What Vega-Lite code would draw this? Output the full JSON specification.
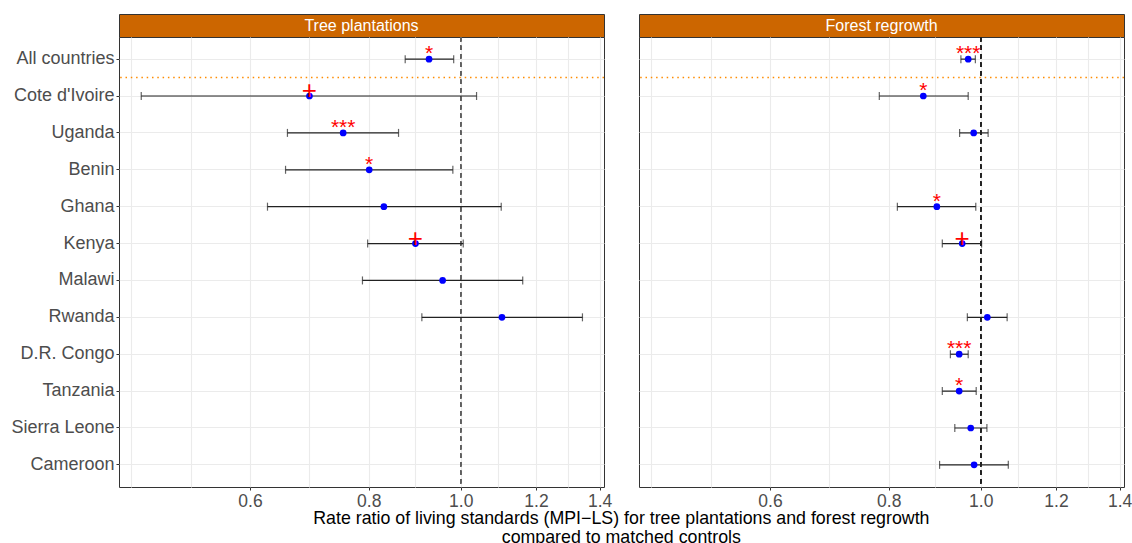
{
  "$schema": "https://vega.github.io/schema/vega-lite/v6.json",
  "padding": {"left": 10, "top": 13, "right": 0, "bottom": 0},
  "background": "white",
  "datasets": {
    "est": [
      {"panel": "Tree plantations", "country": "All countries", "rr": 0.926, "lo": 0.874, "hi": 0.983, "sig": "*"},
      {"panel": "Tree plantations", "country": "Cote d'Ivoire", "rr": 0.693, "lo": 0.461, "hi": 1.039, "sig": "+"},
      {"panel": "Tree plantations", "country": "Uganda", "rr": 0.752, "lo": 0.657, "hi": 0.860, "sig": "***"},
      {"panel": "Tree plantations", "country": "Benin", "rr": 0.801, "lo": 0.654, "hi": 0.981, "sig": "*"},
      {"panel": "Tree plantations", "country": "Ghana", "rr": 0.830, "lo": 0.626, "hi": 1.103, "sig": ""},
      {"panel": "Tree plantations", "country": "Kenya", "rr": 0.896, "lo": 0.798, "hi": 1.006, "sig": "+"},
      {"panel": "Tree plantations", "country": "Malawi", "rr": 0.957, "lo": 0.788, "hi": 1.162, "sig": ""},
      {"panel": "Tree plantations", "country": "Rwanda", "rr": 1.105, "lo": 0.910, "hi": 1.343, "sig": ""},
      {"panel": "Forest regrowth", "country": "All countries", "rr": 0.970, "lo": 0.953, "hi": 0.987, "sig": "***"},
      {"panel": "Forest regrowth", "country": "Cote d'Ivoire", "rr": 0.870, "lo": 0.782, "hi": 0.970, "sig": "*"},
      {"panel": "Forest regrowth", "country": "Uganda", "rr": 0.983, "lo": 0.950, "hi": 1.018, "sig": ""},
      {"panel": "Forest regrowth", "country": "Ghana", "rr": 0.899, "lo": 0.817, "hi": 0.988, "sig": "*"},
      {"panel": "Forest regrowth", "country": "Kenya", "rr": 0.956, "lo": 0.911, "hi": 1.002, "sig": "+"},
      {"panel": "Forest regrowth", "country": "Rwanda", "rr": 1.016, "lo": 0.968, "hi": 1.066, "sig": ""},
      {"panel": "Forest regrowth", "country": "D.R. Congo", "rr": 0.949, "lo": 0.929, "hi": 0.970, "sig": "***"},
      {"panel": "Forest regrowth", "country": "Tanzania", "rr": 0.949, "lo": 0.911, "hi": 0.989, "sig": "*"},
      {"panel": "Forest regrowth", "country": "Sierra Leone", "rr": 0.976, "lo": 0.939, "hi": 1.015, "sig": ""},
      {"panel": "Forest regrowth", "country": "Cameroon", "rr": 0.984, "lo": 0.905, "hi": 1.069, "sig": ""}
    ]
  },
  "title": {
    "text": ["Rate ratio of living standards (MPI−LS) for tree plantations and forest regrowth", "compared to matched controls"],
    "orient": "bottom",
    "anchor": "middle",
    "fontSize": 17.8,
    "fontWeight": "normal",
    "color": "black",
    "font": "Liberation Sans",
    "offset": 0,
    "dx": 50,
    "lineHeight": 18.5
  },
  "columns": 2,
  "spacing": {"row": 0, "column": 35},
  "bounds": "flush",
  "concat": [
    {
      "width": 485, "height": 23,
      "data": {"values": [{"panel": "Tree plantations"}]},
      "mark": {"type": "text", "color": "white", "fontSize": 16, "font": "Liberation Sans"},
      "encoding": {"text": {"field": "panel"}},
      "view": {"fill": "#CC6600", "stroke": "#333333"}
    },
    {
      "width": 485, "height": 23,
      "data": {"values": [{"panel": "Forest regrowth"}]},
      "mark": {"type": "text", "color": "white", "fontSize": 16, "font": "Liberation Sans"},
      "encoding": {"text": {"field": "panel"}},
      "view": {"fill": "#CC6600", "stroke": "#333333"}
    },
    {
      "width": 485, "height": 450,
      "data": {"name": "est"},
      "transform": [{"filter": "datum.panel === 'Tree plantations'"}],
      "view": {"fill": "white", "stroke": "#333333"},
      "layer": [
        {
          "mark": {"type": "rule", "color": "#FF8C00", "strokeDash": [1.5, 3.8], "strokeWidth": 1.5},
          "transform": [{"filter": "datum.country === 'All countries'"}],
          "encoding": {
            "y": {
              "field": "country", "type": "nominal", "bandPosition": 1,
              "scale": {"type": "band", "paddingInner": 0, "paddingOuter": 0.1,
                "domain": ["All countries", "Cote d'Ivoire", "Uganda", "Benin", "Ghana", "Kenya", "Malawi", "Rwanda", "D.R. Congo", "Tanzania", "Sierra Leone", "Cameroon"]},
              "axis": {"title": null, "domain": false, "grid": true, "gridColor": "#EBEBEB", "gridWidth": 1.1,
                "tickSize": 3, "tickColor": "#333333", "labelPadding": 2, "labelFontSize": 18, "labelColor": "#4D4D4D", "labelFont": "Liberation Sans"}
            }
          }
        },
        {
          "mark": {"type": "rule", "color": "#606060", "strokeDash": [4.5, 4], "strokeWidth": 1.1},
          "encoding": {"x": {"datum": 1, "type": "quantitative"}}
        },
        {
          "mark": {"type": "errorbar", "color": "#222222", "thickness": 1.2, "ticks": {"size": 8, "thickness": 1.2, "color": "#222222"}},
          "encoding": {
            "y": {"field": "country", "type": "nominal"},
            "x": {"field": "lo", "type": "quantitative",
              "scale": {"type": "log", "domain": [0.4368, 1.415], "nice": false, "zero": false},
              "axis": {"title": null, "domain": false, "grid": true, "gridColor": "#EBEBEB", "gridWidth": 1.1,
                "values": [0.45, 0.5196, 0.6, 0.6928, 0.8, 0.8944, 1, 1.0954, 1.2, 1.2961, 1.4],
                "labelExpr": "(datum.value == 0.6 || datum.value == 0.8 || datum.value == 1 || datum.value == 1.2 || datum.value == 1.4) ? format(datum.value, '.1f') : ''",
                "tickOpacity": {"condition": {"test": "datum.value == 0.6 || datum.value == 0.8 || datum.value == 1 || datum.value == 1.2 || datum.value == 1.4", "value": 1}, "value": 0},
                "tickSize": 3, "tickColor": "#333333", "labelPadding": 2, "labelFontSize": 17.5, "labelColor": "#4D4D4D",
                "labelFont": "Liberation Sans", "labelOverlap": false, "labelFlush": false}},
            "x2": {"field": "hi"}
          }
        },
        {
          "mark": {"type": "point", "filled": true, "color": "#0000FF", "size": 45, "opacity": 1},
          "encoding": {"y": {"field": "country", "type": "nominal"}, "x": {"field": "rr", "type": "quantitative"}}
        },
        {
          "mark": {"type": "text", "color": "#FF0000", "fontSize": 21, "font": "Liberation Sans", "baseline": "alphabetic", "dy": 1},
          "transform": [{"filter": "datum.sig !== '+'"}],
          "encoding": {"y": {"field": "country", "type": "nominal"}, "x": {"field": "rr", "type": "quantitative"}, "text": {"field": "sig"}}
        },
        {
          "mark": {"type": "text", "color": "#FF0000", "fontSize": 26, "font": "Liberation Sans", "baseline": "alphabetic", "dy": 3},
          "transform": [{"filter": "datum.sig === '+'"}],
          "encoding": {"y": {"field": "country", "type": "nominal"}, "x": {"field": "rr", "type": "quantitative"}, "text": {"field": "sig"}}
        }
      ]
    },
    {
      "width": 485, "height": 450,
      "data": {"name": "est"},
      "transform": [{"filter": "datum.panel === 'Forest regrowth'"}],
      "view": {"fill": "white", "stroke": "#333333"},
      "layer": [
        {
          "mark": {"type": "rule", "color": "#FF8C00", "strokeDash": [1.5, 3.8], "strokeWidth": 1.5},
          "transform": [{"filter": "datum.country === 'All countries'"}],
          "encoding": {
            "y": {
              "field": "country", "type": "nominal", "bandPosition": 1,
              "scale": {"type": "band", "paddingInner": 0, "paddingOuter": 0.1,
                "domain": ["All countries", "Cote d'Ivoire", "Uganda", "Benin", "Ghana", "Kenya", "Malawi", "Rwanda", "D.R. Congo", "Tanzania", "Sierra Leone", "Cameroon"]},
              "axis": {"title": null, "domain": false, "grid": true, "gridColor": "#EBEBEB", "gridWidth": 1.1,
                "ticks": false, "labels": false, "minExtent": 0}
            }
          }
        },
        {
          "mark": {"type": "rule", "color": "#222222", "strokeDash": [4.5, 4], "strokeWidth": 1.2},
          "encoding": {"x": {"datum": 1, "type": "quantitative"}}
        },
        {
          "mark": {"type": "errorbar", "color": "#222222", "thickness": 1.2, "ticks": {"size": 8, "thickness": 1.2, "color": "#222222"}},
          "encoding": {
            "y": {"field": "country", "type": "nominal"},
            "x": {"field": "lo", "type": "quantitative",
              "scale": {"type": "log", "domain": [0.4368, 1.415], "nice": false, "zero": false},
              "axis": {"title": null, "domain": false, "grid": true, "gridColor": "#EBEBEB", "gridWidth": 1.1,
                "values": [0.45, 0.5196, 0.6, 0.6928, 0.8, 0.8944, 1, 1.0954, 1.2, 1.2961, 1.4],
                "labelExpr": "(datum.value == 0.6 || datum.value == 0.8 || datum.value == 1 || datum.value == 1.2 || datum.value == 1.4) ? format(datum.value, '.1f') : ''",
                "tickOpacity": {"condition": {"test": "datum.value == 0.6 || datum.value == 0.8 || datum.value == 1 || datum.value == 1.2 || datum.value == 1.4", "value": 1}, "value": 0},
                "tickSize": 3, "tickColor": "#333333", "labelPadding": 2, "labelFontSize": 17.5, "labelColor": "#4D4D4D",
                "labelFont": "Liberation Sans", "labelOverlap": false, "labelFlush": false}},
            "x2": {"field": "hi"}
          }
        },
        {
          "mark": {"type": "point", "filled": true, "color": "#0000FF", "size": 45, "opacity": 1},
          "encoding": {"y": {"field": "country", "type": "nominal"}, "x": {"field": "rr", "type": "quantitative"}}
        },
        {
          "mark": {"type": "text", "color": "#FF0000", "fontSize": 21, "font": "Liberation Sans", "baseline": "alphabetic", "dy": 1},
          "transform": [{"filter": "datum.sig !== '+'"}],
          "encoding": {"y": {"field": "country", "type": "nominal"}, "x": {"field": "rr", "type": "quantitative"}, "text": {"field": "sig"}}
        },
        {
          "mark": {"type": "text", "color": "#FF0000", "fontSize": 26, "font": "Liberation Sans", "baseline": "alphabetic", "dy": 3},
          "transform": [{"filter": "datum.sig === '+'"}],
          "encoding": {"y": {"field": "country", "type": "nominal"}, "x": {"field": "rr", "type": "quantitative"}, "text": {"field": "sig"}}
        }
      ]
    }
  ]
}
